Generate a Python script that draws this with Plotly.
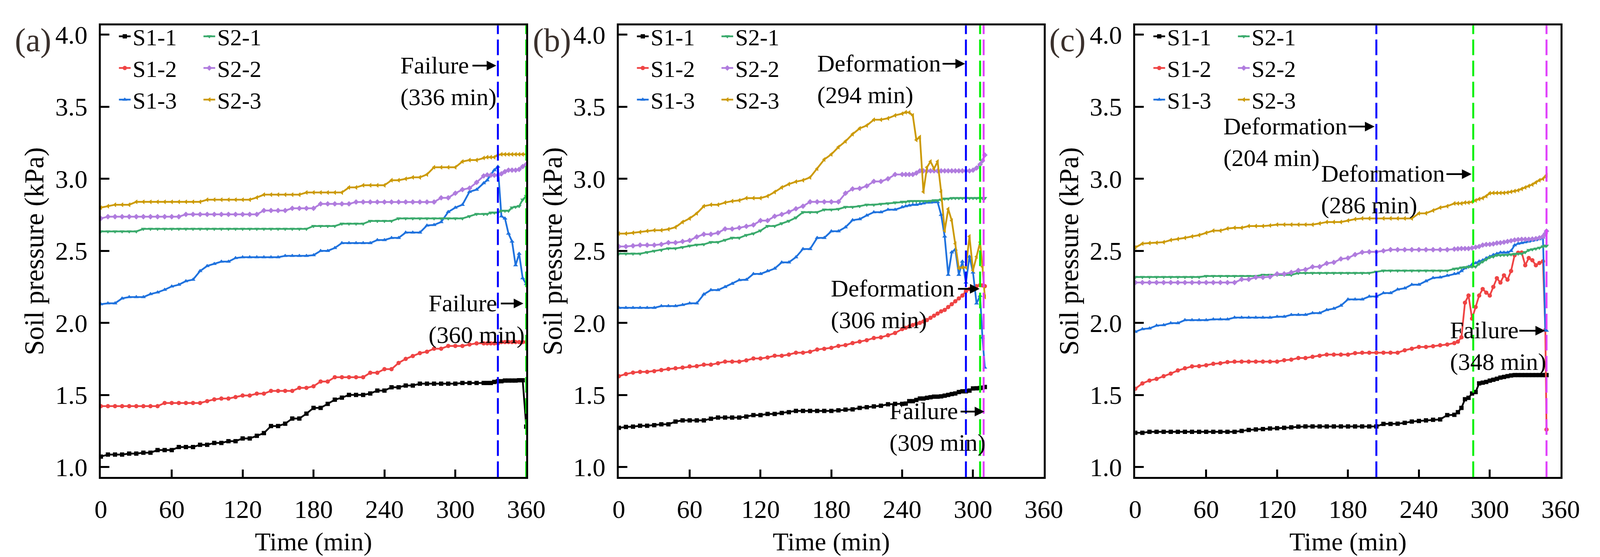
import plotly.graph_objects as go

# ---------------- data ----------------
series_names = ['S1-1', 'S1-2', 'S1-3', 'S2-1', 'S2-2', 'S2-3']
x_ticks = [0, 60, 120, 180, 240, 300, 360]
y_ticks = [1.0, 1.5, 2.0, 2.5, 3.0, 3.5, 4.0]
panel_labels = ['(a)', '(b)', '(c)']

time_a = [0, 6, 12, 18, 24, 30, 36, 42, 48, 54, 60, 66, 72, 78, 84, 90, 96, 102, 108, 114,
          120, 126, 132, 138, 144, 150, 156, 162, 168, 174, 180, 186, 192, 198, 204, 210, 216,
          222, 228, 234, 240, 246, 252, 258, 264, 270, 276, 282, 288, 294, 300, 306, 312, 318,
          324, 327, 330, 333, 336, 339, 342, 345, 348, 351, 354, 357, 360]
a_s1_1 = [1.072, 1.086, 1.086, 1.086, 1.093, 1.093, 1.099, 1.099, 1.117, 1.117,
          1.117, 1.138, 1.138, 1.138, 1.154, 1.154, 1.167, 1.167, 1.179, 1.179,
          1.198, 1.198, 1.216, 1.235, 1.284, 1.284, 1.300, 1.336, 1.336, 1.370,
          1.410, 1.410, 1.438, 1.467, 1.481, 1.500, 1.500, 1.500, 1.510, 1.530,
          1.530, 1.553, 1.553, 1.565, 1.565, 1.578, 1.578, 1.578, 1.578, 1.578,
          1.578, 1.583, 1.583, 1.583, 1.583,
          1.583, 1.583, 1.590, 1.595, 1.595, 1.600, 1.600, 1.600, 1.600, 1.602, 1.602, 1.280]
a_s1_2 = [1.422, 1.422, 1.422, 1.422, 1.422, 1.422, 1.422, 1.422, 1.422, 1.444,
          1.444, 1.444, 1.444, 1.444, 1.444, 1.457, 1.469, 1.475, 1.475, 1.485,
          1.496, 1.496, 1.509, 1.509, 1.528, 1.528, 1.528, 1.528, 1.549, 1.549,
          1.560, 1.593, 1.593, 1.623, 1.623, 1.623, 1.623, 1.623, 1.654, 1.654,
          1.679, 1.679, 1.722, 1.750, 1.770, 1.790, 1.800, 1.821, 1.821, 1.840,
          1.840, 1.840, 1.850, 1.858, 1.858,
          1.858, 1.858, 1.858, 1.858, 1.867, 1.867, 1.867, 1.867, 1.867, 1.867, 1.867, 1.867]
a_s1_3 = [2.130, 2.136, 2.136, 2.170, 2.179, 2.179, 2.179, 2.200, 2.212, 2.230,
          2.253, 2.265, 2.290, 2.300, 2.360, 2.395, 2.410, 2.425, 2.425, 2.450,
          2.456, 2.456, 2.456, 2.456, 2.456, 2.456, 2.465, 2.465, 2.465, 2.465,
          2.470, 2.500, 2.500, 2.520, 2.554, 2.554, 2.554, 2.554, 2.554, 2.575,
          2.575, 2.590, 2.590, 2.627, 2.627, 2.627, 2.676, 2.680, 2.700, 2.770,
          2.800, 2.820, 2.910, 2.925, 2.970,
          2.990, 3.030, 3.060, 3.085, 2.740, 2.725, 2.620, 2.565, 2.400, 2.480, 2.310, 2.270]
a_s2_1 = [2.635, 2.635, 2.635, 2.635, 2.635, 2.635, 2.652, 2.652, 2.652, 2.652,
          2.652, 2.652, 2.652, 2.652, 2.652, 2.652, 2.652, 2.652, 2.652, 2.652,
          2.652, 2.652, 2.652, 2.652, 2.652, 2.652, 2.652, 2.652, 2.652, 2.652,
          2.672, 2.672, 2.672, 2.672, 2.688, 2.688, 2.688, 2.688, 2.707, 2.707,
          2.707, 2.707, 2.725, 2.725, 2.725, 2.725, 2.725, 2.725, 2.725, 2.725,
          2.725, 2.725, 2.740, 2.755, 2.755,
          2.755, 2.765, 2.765, 2.765, 2.778, 2.778, 2.778, 2.800, 2.805, 2.810, 2.855, 2.880]
a_s2_2 = [2.725, 2.737, 2.737, 2.737, 2.737, 2.737, 2.737, 2.737, 2.737, 2.737,
          2.737, 2.737, 2.753, 2.753, 2.753, 2.753, 2.753, 2.753, 2.753, 2.753,
          2.753, 2.753, 2.753, 2.780, 2.780, 2.780, 2.780, 2.795, 2.795, 2.795,
          2.795, 2.826, 2.826, 2.826, 2.826, 2.826, 2.839, 2.839, 2.839, 2.839,
          2.839, 2.839, 2.839, 2.839, 2.839, 2.839, 2.839, 2.839, 2.868, 2.868,
          2.900, 2.925, 2.935, 2.975, 3.020,
          3.027, 3.025, 3.025, 3.025, 3.035, 3.050, 3.060, 3.060, 3.060, 3.065, 3.085, 3.100]
a_s2_3 = [2.800, 2.810, 2.820, 2.820, 2.820, 2.840, 2.840, 2.840, 2.840, 2.840,
          2.840, 2.840, 2.840, 2.840, 2.840, 2.855, 2.855, 2.855, 2.855, 2.855,
          2.855, 2.855, 2.870, 2.890, 2.890, 2.890, 2.890, 2.890, 2.890, 2.905,
          2.905, 2.905, 2.905, 2.905, 2.905, 2.940, 2.940, 2.955, 2.955, 2.955,
          2.955, 2.990, 2.990, 3.000, 3.010, 3.010, 3.030, 3.080, 3.080, 3.080,
          3.080, 3.120, 3.130, 3.130, 3.145,
          3.150, 3.150, 3.150, 3.165, 3.170, 3.170, 3.170, 3.170, 3.170, 3.170, 3.170, 3.170]

time_b = [0, 6, 12, 18, 24, 30, 36, 42, 48, 54, 60, 66, 72, 78, 84, 90, 96, 102, 108, 114,
          120, 126, 132, 138, 144, 150, 156, 162, 168, 174, 180, 186, 192, 198, 204, 210, 216,
          222, 228, 234, 240, 243, 246, 249, 252, 255, 258, 261, 264, 267, 270, 273, 276, 279,
          282, 285, 288, 291, 294, 297, 300, 303, 306, 308, 310]
b_s1_1 = [1.272, 1.278, 1.280, 1.286, 1.286, 1.290, 1.296, 1.296, 1.315, 1.323,
          1.323, 1.323, 1.323, 1.335, 1.343, 1.343, 1.343, 1.343, 1.350, 1.360,
          1.360, 1.368, 1.368, 1.375, 1.380, 1.389, 1.389, 1.389, 1.389, 1.389,
          1.389, 1.393, 1.398, 1.400, 1.410, 1.415, 1.420, 1.425, 1.435, 1.438,
          1.438,
          1.440, 1.457, 1.457, 1.465, 1.475, 1.475, 1.480, 1.484, 1.488, 1.488,
          1.490, 1.495, 1.500, 1.506, 1.510, 1.520, 1.525, 1.525, 1.530, 1.545,
          1.546, 1.548,
          1.550, 1.555]
b_s1_2 = [1.630, 1.645, 1.655, 1.660, 1.660, 1.665, 1.673, 1.680, 1.685, 1.690,
          1.698, 1.700, 1.710, 1.710, 1.720, 1.731, 1.731, 1.731, 1.740, 1.753,
          1.753, 1.760, 1.772, 1.772, 1.780, 1.793, 1.793, 1.800, 1.815, 1.820,
          1.827, 1.840, 1.846, 1.860, 1.870, 1.880, 1.895, 1.900, 1.914, 1.930,
          1.957,
          1.966, 1.975, 1.985, 1.994, 2.000, 2.010, 2.020, 2.035, 2.050, 2.065,
          2.080, 2.090, 2.110, 2.130, 2.150, 2.170, 2.190, 2.220, 2.235, 2.245,
          2.255, 2.262,
          2.260, 2.255]
b_s1_3 = [2.105, 2.105, 2.105, 2.105, 2.105, 2.105, 2.117, 2.117, 2.117, 2.125,
          2.136, 2.136, 2.198, 2.228, 2.228, 2.250, 2.272, 2.297, 2.300, 2.340,
          2.340, 2.360, 2.377, 2.420, 2.420, 2.456, 2.513, 2.513, 2.590, 2.590,
          2.636, 2.636, 2.664, 2.713, 2.720, 2.746, 2.768, 2.768, 2.786, 2.786,
          2.804,
          2.810, 2.815, 2.820, 2.820, 2.825, 2.830, 2.835, 2.835, 2.838, 2.839,
          2.750, 2.600, 2.334, 2.490, 2.510, 2.334, 2.426, 2.280, 2.460, 2.350,
          2.135, 2.188,
          1.898, 1.690]
b_s2_1 = [2.480, 2.480, 2.480, 2.480, 2.490, 2.499, 2.505, 2.517, 2.517, 2.525,
          2.535, 2.542, 2.545, 2.560, 2.560, 2.575, 2.590, 2.590, 2.609, 2.620,
          2.640, 2.672, 2.672, 2.690, 2.707, 2.730, 2.768, 2.768, 2.768, 2.786,
          2.786, 2.790, 2.804, 2.804, 2.810, 2.820, 2.820, 2.825, 2.829, 2.835,
          2.840,
          2.840, 2.845, 2.845, 2.845, 2.845, 2.845, 2.845, 2.846, 2.850, 2.850,
          2.855, 2.862, 2.862, 2.866, 2.866, 2.866, 2.866, 2.866, 2.866, 2.866,
          2.866, 2.866,
          2.866, 2.866]
b_s2_2 = [2.530, 2.530, 2.535, 2.540, 2.540, 2.540, 2.545, 2.557, 2.557, 2.565,
          2.572, 2.597, 2.615, 2.615, 2.625, 2.652, 2.652, 2.660, 2.670, 2.680,
          2.710, 2.710, 2.740, 2.753, 2.770, 2.792, 2.810, 2.840, 2.840, 2.840,
          2.840, 2.840, 2.900, 2.930, 2.933, 2.950, 2.982, 2.982, 3.000, 3.030,
          3.030,
          3.030, 3.030, 3.030, 3.040, 3.055, 3.055, 3.055, 3.055, 3.055, 3.055,
          3.055, 3.055, 3.055, 3.055, 3.055, 3.055, 3.055, 3.055, 3.055, 3.060,
          3.075, 3.100,
          3.125, 3.165]
b_s2_3 = [2.620, 2.620, 2.625, 2.630, 2.638, 2.643, 2.643, 2.650, 2.664, 2.700,
          2.725, 2.760, 2.810, 2.820, 2.820, 2.835, 2.845, 2.850, 2.866, 2.866,
          2.866, 2.880, 2.908, 2.940, 2.963, 2.980, 2.990, 3.010, 3.070, 3.134,
          3.170, 3.220, 3.260, 3.310, 3.350, 3.370, 3.410, 3.410, 3.420, 3.440,
          3.452,
          3.462, 3.460, 3.440, 3.270, 3.290, 2.910, 3.080, 3.120, 3.070, 3.120,
          2.910, 2.640, 2.790, 2.710, 2.550, 2.380, 2.385, 2.385, 2.600, 2.365,
          2.460, 2.560,
          2.390, 2.180]

time_c = [0, 6, 12, 18, 24, 30, 36, 42, 48, 54, 60, 66, 72, 78, 84, 90, 96, 102, 108, 114,
          120, 126, 132, 138, 144, 150, 156, 162, 168, 174, 180, 186, 192, 198, 204, 210, 216,
          222, 228, 234, 240, 246, 252, 258, 264, 270, 273, 276, 279, 282, 285, 288, 291, 294,
          297, 300, 303, 306, 309, 312, 315, 318, 321, 324, 327, 330, 333, 336, 339, 342, 345,
          347, 348]
c_s1_1 = [1.237, 1.237, 1.244, 1.244, 1.244, 1.244, 1.244, 1.244, 1.244, 1.244,
          1.244, 1.244, 1.244, 1.244, 1.244, 1.250, 1.257, 1.260, 1.263, 1.267,
          1.269, 1.272, 1.275, 1.280, 1.281, 1.281, 1.281, 1.281, 1.281, 1.281,
          1.281, 1.281, 1.281, 1.281, 1.281, 1.299, 1.299, 1.300, 1.306, 1.315,
          1.319, 1.323, 1.327, 1.330, 1.360, 1.362,
          1.380, 1.410, 1.470, 1.480, 1.510, 1.520, 1.580, 1.585, 1.590, 1.599,
          1.605, 1.612, 1.620, 1.625, 1.630, 1.635, 1.638, 1.638, 1.638, 1.638,
          1.638, 1.638, 1.638, 1.638, 1.638,
          1.638, 1.638]
c_s1_2 = [1.543, 1.580, 1.600, 1.611, 1.630, 1.648, 1.670, 1.685, 1.698, 1.700,
          1.706, 1.716, 1.720, 1.728, 1.731, 1.731, 1.731, 1.731, 1.731, 1.731,
          1.731, 1.741, 1.745, 1.756, 1.756, 1.765, 1.772, 1.780, 1.780, 1.780,
          1.780, 1.790, 1.793, 1.793, 1.793, 1.793, 1.793, 1.793, 1.810, 1.821,
          1.833, 1.833, 1.838, 1.845, 1.850, 1.860,
          1.870, 1.900, 2.140, 2.190, 2.030, 2.110, 2.190, 2.235, 2.210, 2.190,
          2.250, 2.310, 2.280, 2.330, 2.300, 2.360, 2.470, 2.487, 2.488, 2.400,
          2.450, 2.435, 2.400, 2.416, 2.427,
          1.950, 1.260]
c_s1_3 = [1.938, 1.957, 1.962, 1.981, 1.985, 1.998, 1.998, 2.019, 2.019, 2.019,
          2.019, 2.025, 2.025, 2.025, 2.037, 2.037, 2.037, 2.037, 2.037, 2.037,
          2.043, 2.043, 2.056, 2.056, 2.056, 2.068, 2.068, 2.090, 2.099, 2.120,
          2.163, 2.163, 2.163, 2.183, 2.183, 2.207, 2.207, 2.232, 2.240, 2.265,
          2.265, 2.290, 2.312, 2.316, 2.328, 2.340,
          2.344, 2.360, 2.380, 2.389, 2.405, 2.415, 2.427, 2.435, 2.449, 2.460,
          2.472, 2.480, 2.488, 2.488, 2.488, 2.500, 2.539, 2.550, 2.555, 2.560,
          2.565, 2.570, 2.575, 2.581, 2.593,
          1.950, 1.946]
c_s2_1 = [2.318, 2.318, 2.318, 2.318, 2.318, 2.318, 2.318, 2.318, 2.318, 2.318,
          2.325, 2.325, 2.325, 2.325, 2.325, 2.325, 2.325, 2.325, 2.333, 2.333,
          2.333, 2.333, 2.333, 2.346, 2.346, 2.346, 2.346, 2.346, 2.346, 2.346,
          2.346, 2.346, 2.346, 2.346, 2.355, 2.362, 2.362, 2.362, 2.362, 2.362,
          2.362, 2.362, 2.362, 2.362, 2.362, 2.375,
          2.377, 2.383, 2.386, 2.389, 2.390, 2.390, 2.410, 2.425, 2.440, 2.455,
          2.460, 2.470, 2.470, 2.471, 2.471, 2.475, 2.478, 2.480, 2.480, 2.490,
          2.505, 2.510, 2.515, 2.521, 2.530,
          2.535, 2.535]
c_s2_2 = [2.280, 2.280, 2.280, 2.280, 2.280, 2.280, 2.280, 2.280, 2.280, 2.280,
          2.280, 2.280, 2.280, 2.280, 2.280, 2.302, 2.302, 2.316, 2.316, 2.320,
          2.340, 2.340, 2.350, 2.364, 2.370, 2.389, 2.390, 2.413, 2.420, 2.444,
          2.450, 2.474, 2.490, 2.493, 2.493, 2.500, 2.508, 2.508, 2.508, 2.508,
          2.508, 2.508, 2.508, 2.508, 2.508, 2.512,
          2.514, 2.516, 2.516, 2.516, 2.520, 2.525, 2.530, 2.540, 2.544, 2.545,
          2.548, 2.554, 2.556, 2.560, 2.565, 2.570, 2.575, 2.578, 2.580, 2.580,
          2.580, 2.582, 2.585, 2.590, 2.600,
          2.620, 2.637]
c_s2_3 = [2.523, 2.550, 2.554, 2.556, 2.560, 2.575, 2.582, 2.590, 2.600, 2.609,
          2.625, 2.640, 2.640, 2.655, 2.660, 2.660, 2.672, 2.672, 2.672, 2.676,
          2.682, 2.682, 2.682, 2.682, 2.682, 2.682, 2.690, 2.700, 2.700, 2.700,
          2.710, 2.720, 2.725, 2.725, 2.725, 2.725, 2.725, 2.725, 2.725, 2.725,
          2.760, 2.761, 2.780, 2.800, 2.810, 2.829,
          2.829, 2.829, 2.835, 2.835, 2.840, 2.850, 2.860, 2.866, 2.880, 2.900,
          2.902, 2.902, 2.902, 2.902, 2.905, 2.910, 2.915, 2.920, 2.930, 2.940,
          2.950, 2.960, 2.975, 2.990, 3.000,
          3.015, 3.025]

# event markers (time in min, label)
events_a = [336, 360]
event_labels_a = ['Failure', 'Failure']
events_b = [294, 306, 309]
event_labels_b = ['Deformation', 'Deformation', 'Failure']
events_c = [204, 286, 348]
event_labels_c = ['Deformation', 'Deformation', 'Failure']

# ---------------- style ----------------
FONT = 'Liberation Serif'
W, H = 4120, 1426
series_colors = ['#000000', '#EF4444', '#1F72DE', '#3AAA6C', '#B07CDE', '#CC9A06']
series_symbols = ['square', 'circle', 'triangle-up', 'triangle-down', 'diamond', 'triangle-left']
BLUE, GREEN, MAGENTA = '#0000FF', '#00F000', '#E040FB'

x_domains = [[237 / W, 1344 / W], [1585 / W, 2691 / W], [2929 / W, 4036 / W]]
y_domain = [1 - 1221 / H, 1 - 46 / H]
Y_RANGE = [0.93, 4.064]
PX_PER_UNIT = (y_domain[1] - y_domain[0]) * H / (Y_RANGE[1] - Y_RANGE[0])

panels = [
    (time_a, [a_s1_1, a_s1_2, a_s1_3, a_s2_1, a_s2_2, a_s2_3], events_a, event_labels_a, [BLUE, GREEN]),
    (time_b, [b_s1_1, b_s1_2, b_s1_3, b_s2_1, b_s2_2, b_s2_3], events_b, event_labels_b, [BLUE, GREEN, MAGENTA]),
    (time_c, [c_s1_1, c_s1_2, c_s1_3, c_s2_1, c_s2_2, c_s2_3], events_c, event_labels_c, [BLUE, GREEN, MAGENTA]),
]

# label block placement per event: (left edge t, block middle y, arrow tail t, arrow head t)
ann_pos = [
    [(253.0, 3.678, 314.0, 334.7), (276.5, 2.027, 338.0, 357.6)],
    [(167.5, 3.691, 273.7, 293.3), (179.0, 2.129, 286.8, 305.6), (228.5, 1.277, 289.0, 309.6)],
    [(74.0, 3.255, 180.0, 202.5), (156.5, 2.925, 262.8, 284.6), (265.5, 1.838, 324.5, 346.8)],
]
ANN_SIZE = 62
LINE_OFFSET = 0.65 * ANN_SIZE / PX_PER_UNIT  # half of plotly's 1.3 line spacing, in data units

fig = go.Figure()

for p, (tt, ys, evs, evl, evc) in enumerate(panels):
    xa = 'x' if p == 0 else f'x{p + 1}'
    ya = 'y' if p == 0 else f'y{p + 1}'
    for k, (name, yy) in enumerate(zip(series_names, ys)):
        leg_idx = 2 * p + (1 if k < 3 else 2)
        leg = 'legend' if leg_idx == 1 else f'legend{leg_idx}'
        fig.add_trace(go.Scatter(
            x=tt, y=yy, name=name, mode='lines+markers',
            line=dict(color=series_colors[k], width=4.5),
            marker=dict(symbol=series_symbols[k], size=11, color=series_colors[k], line=dict(width=0)),
            xaxis=xa, yaxis=ya, legend=leg, showlegend=True,
        ))
    for t, c in zip(evs, evc):
        fig.add_shape(type='line', xref=xa, yref=f'{ya} domain', x0=t, x1=t, y0=0, y1=1,
                      line=dict(color=c, width=5, dash='40px,14px'), layer='above')
    for (t, lab), pos in zip(zip(evs, evl), ann_pos[p]):
        left, mid, tail, head = pos
        ay = mid + LINE_OFFSET
        fig.add_annotation(xref=xa, yref=ya, axref=xa, ayref=ya, x=head, y=ay, ax=tail, ay=ay,
                           text='', showarrow=True, arrowhead=2, arrowsize=1.1, arrowwidth=4.5,
                           arrowcolor='black', standoff=0, startstandoff=0)
        fig.add_annotation(xref=xa, yref=ya, x=left, y=mid, text=f'{lab}<br>({t} min)',
                           showarrow=False, xanchor='left', yanchor='middle', align='left',
                           font=dict(family=FONT, size=ANN_SIZE, color='black'))
    fig.add_annotation(xref='paper', yref='paper', x=x_domains[p][0] - 226 / W, y=1 - 84 / H,
                       text=panel_labels[p], showarrow=False, xanchor='left', yanchor='middle',
                       font=dict(family=FONT, size=84, color='#3a302c'))

axis_common = dict(showgrid=False, zeroline=False, showline=True, linecolor='black', linewidth=5,
                   mirror=True, ticks='inside', tickcolor='black', tickwidth=5,
                   tickfont=dict(family=FONT, size=66, color='black'))

layout = dict(
    width=W, height=H, margin=dict(l=0, r=0, t=0, b=0),
    paper_bgcolor='white', plot_bgcolor='white',
    font=dict(family=FONT, color='black'),
)
for p in range(3):
    xs = 'xaxis' if p == 0 else f'xaxis{p + 1}'
    ys = 'yaxis' if p == 0 else f'yaxis{p + 1}'
    ya = 'y' if p == 0 else f'y{p + 1}'
    xa = 'x' if p == 0 else f'x{p + 1}'
    layout[xs] = dict(axis_common, domain=x_domains[p], anchor=ya, range=[0, 360],
                      tickvals=x_ticks, ticklen=19, ticklabelstandoff=20,
                      title=dict(text='Time (min)', font=dict(family=FONT, size=66), standoff=26))
    layout[ys] = dict(axis_common, domain=y_domain, anchor=xa, range=Y_RANGE,
                      tickvals=y_ticks, ticktext=[f'{v:.1f}' for v in y_ticks], ticklen=22,
                      ticklabelstandoff=16,
                      title=dict(text='Soil pressure (kPa)', font=dict(family=FONT, size=70), standoff=8))
    for j, lx in enumerate([287, 507]):
        idx = 2 * p + j + 1
        key = 'legend' if idx == 1 else f'legend{idx}'
        layout[key] = dict(x=(lx - 8 + (x_domains[p][0] * W - 237)) / W, y=1 - 28 / H,
                           xanchor='left', yanchor='top', bgcolor='rgba(0,0,0,0)',
                           font=dict(family=FONT, size=60, color='black'),
                           tracegroupgap=0, itemwidth=30, borderwidth=0)

fig.update_layout(**layout)
fig.write_html('out.html')
